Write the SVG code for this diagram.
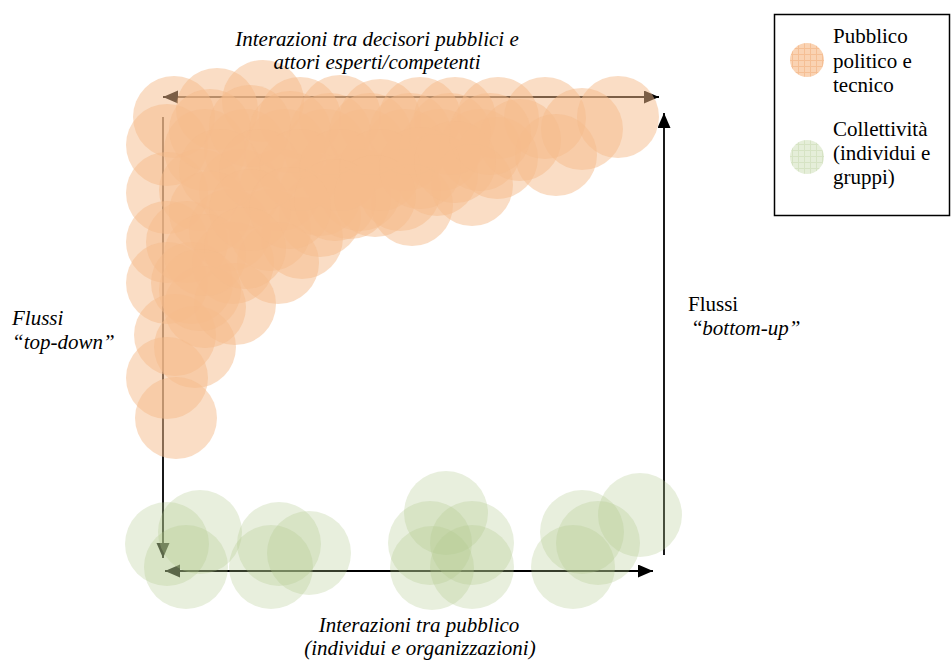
<svg xmlns="http://www.w3.org/2000/svg" width="952" height="663" viewBox="0 0 952 663">
<style>
.t{font-family:"Liberation Serif","Times New Roman",serif;font-size:21px;fill:#000}
.i{font-style:italic}
.n{font-style:normal}
.ln{stroke:#000;stroke-width:1.8;fill:none}
.o{fill:#f6bb8c;fill-opacity:0.5}
.g{fill:#b4cb8e;fill-opacity:0.3}
</style>
<defs>
<marker id="ah" markerUnits="userSpaceOnUse" markerWidth="16" markerHeight="14" refX="15" refY="6.5" orient="auto-start-reverse">
<path d="M0,0 L15,6.5 L0,13 z" fill="#000"/>
</marker>
<pattern id="po" width="6" height="6" patternUnits="userSpaceOnUse">
<rect width="6" height="6" fill="#fad3b3"/>
<path d="M0,0.5 H6 M0.5,0 V6" stroke="#f5bf95" stroke-width="1"/>
</pattern>
<pattern id="pg" width="6" height="6" patternUnits="userSpaceOnUse">
<rect width="6" height="6" fill="#e5eed9"/>
<path d="M0,0.5 H6 M0.5,0 V6" stroke="#d6e3c4" stroke-width="1"/>
</pattern>
</defs>
<rect width="952" height="663" fill="#fff"/>
<g id="connectors">
<line class="ln" x1="163" y1="97" x2="659" y2="97" marker-start="url(#ah)" marker-end="url(#ah)"/>
<line class="ln" x1="163" y1="117" x2="163" y2="558" marker-end="url(#ah)"/>
<line class="ln" x1="664" y1="555" x2="664" y2="113" marker-end="url(#ah)"/>
<line class="ln" x1="165" y1="571" x2="653" y2="571" marker-start="url(#ah)" marker-end="url(#ah)"/>
</g>
<g id="cluster-pubblico">
<circle class="o" cx="174" cy="117" r="41"/><circle class="o" cx="217" cy="109" r="41"/><circle class="o" cx="263" cy="101" r="41"/><circle class="o" cx="300" cy="118" r="41"/><circle class="o" cx="340" cy="116" r="41"/><circle class="o" cx="380" cy="120" r="41"/><circle class="o" cx="420" cy="118" r="41"/><circle class="o" cx="455" cy="118" r="41"/><circle class="o" cx="498" cy="118" r="41"/><circle class="o" cx="545" cy="118" r="41"/><circle class="o" cx="582" cy="129" r="41"/><circle class="o" cx="618" cy="117" r="41"/>
<circle class="o" cx="167" cy="145" r="41"/><circle class="o" cx="205" cy="150" r="41"/><circle class="o" cx="245" cy="150" r="41"/><circle class="o" cx="285" cy="150" r="41"/><circle class="o" cx="325" cy="150" r="41"/><circle class="o" cx="365" cy="150" r="41"/><circle class="o" cx="405" cy="150" r="41"/><circle class="o" cx="440" cy="150" r="41"/><circle class="o" cx="480" cy="150" r="41"/><circle class="o" cx="497" cy="158" r="41"/><circle class="o" cx="520" cy="140" r="41"/><circle class="o" cx="556" cy="155" r="41"/>
<circle class="o" cx="167" cy="193" r="41"/><circle class="o" cx="200" cy="190" r="41"/><circle class="o" cx="240" cy="190" r="41"/><circle class="o" cx="280" cy="190" r="41"/><circle class="o" cx="320" cy="195" r="41"/><circle class="o" cx="360" cy="190" r="41"/><circle class="o" cx="400" cy="190" r="41"/><circle class="o" cx="437" cy="175" r="41"/><circle class="o" cx="472" cy="185" r="41"/><circle class="o" cx="412" cy="205" r="41"/>
<circle class="o" cx="167" cy="242" r="41"/><circle class="o" cx="187" cy="242" r="41"/><circle class="o" cx="230" cy="230" r="41"/><circle class="o" cx="270" cy="230" r="41"/><circle class="o" cx="302" cy="238" r="41"/><circle class="o" cx="320" cy="216" r="41"/><circle class="o" cx="350" cy="198" r="41"/>
<circle class="o" cx="167" cy="283" r="41"/><circle class="o" cx="192" cy="283" r="41"/><circle class="o" cx="233" cy="263" r="41"/><circle class="o" cx="278" cy="263" r="41"/>
<circle class="o" cx="175" cy="335" r="41"/><circle class="o" cx="195" cy="347" r="41"/><circle class="o" cx="235" cy="304" r="41"/><circle class="o" cx="205" cy="307" r="41"/>
<circle class="o" cx="167" cy="378" r="41"/><circle class="o" cx="176" cy="418" r="41"/>
<circle class="o" cx="210" cy="130" r="41"/><circle class="o" cx="250" cy="126" r="41"/><circle class="o" cx="290" cy="132" r="41"/><circle class="o" cx="330" cy="134" r="41"/><circle class="o" cx="370" cy="134" r="41"/><circle class="o" cx="410" cy="134" r="41"/><circle class="o" cx="450" cy="134" r="41"/><circle class="o" cx="490" cy="134" r="41"/>
<circle class="o" cx="220" cy="170" r="41"/><circle class="o" cx="260" cy="170" r="41"/><circle class="o" cx="300" cy="170" r="41"/><circle class="o" cx="340" cy="170" r="41"/><circle class="o" cx="380" cy="170" r="41"/><circle class="o" cx="420" cy="168" r="41"/><circle class="o" cx="455" cy="162" r="41"/>
<circle class="o" cx="210" cy="212" r="41"/><circle class="o" cx="250" cy="210" r="41"/><circle class="o" cx="290" cy="208" r="41"/><circle class="o" cx="335" cy="200" r="41"/><circle class="o" cx="375" cy="196" r="41"/>
<circle class="o" cx="205" cy="255" r="41"/><circle class="o" cx="245" cy="248" r="41"/><circle class="o" cx="200" cy="290" r="41"/>
</g>
<g id="cluster-collettivita">
<circle class="g" cx="167" cy="544" r="42"/><circle class="g" cx="200" cy="532" r="42"/><circle class="g" cx="186" cy="567" r="42"/>
<circle class="g" cx="279" cy="544" r="42"/><circle class="g" cx="309" cy="553" r="42"/><circle class="g" cx="271" cy="567" r="42"/>
<circle class="g" cx="446" cy="513" r="42"/><circle class="g" cx="430" cy="543" r="42"/><circle class="g" cx="472" cy="543" r="42"/><circle class="g" cx="432" cy="568" r="42"/><circle class="g" cx="472" cy="567" r="42"/>
<circle class="g" cx="582" cy="532" r="42"/><circle class="g" cx="598" cy="543" r="42"/><circle class="g" cx="573" cy="567" r="42"/><circle class="g" cx="640" cy="515" r="42"/>
</g>
<g id="label-top">
<text class="t i" x="377" y="46" text-anchor="middle">Interazioni tra decisori pubblici e</text>
<text class="t i" x="377" y="69" text-anchor="middle">attori esperti/competenti</text>
</g>
<g id="label-bottom">
<text class="t i" x="419" y="632" text-anchor="middle">Interazioni tra pubblico</text>
<text class="t i" x="420" y="655" text-anchor="middle">(individui e organizzazioni)</text>
</g>
<g id="label-left">
<text class="t i" x="12" y="325">Flussi</text>
<text class="t i" x="12" y="349">“top-down”</text>
</g>
<g id="label-right">
<text class="t" x="688" y="311">Flussi</text>
<text class="t" x="693" y="335">“<tspan class="i">bottom-up”</tspan></text>
</g>
<g id="legend">
<rect x="774.5" y="14.5" width="175" height="201" fill="#fff" stroke="#000" stroke-width="1.5"/>
<circle cx="807" cy="60" r="17" fill="url(#po)"/>
<circle cx="807" cy="157" r="17" fill="url(#pg)"/>
<text class="t" x="833" y="43">Pubblico</text>
<text class="t" x="833" y="68">politico e</text>
<text class="t" x="833" y="92">tecnico</text>
<text class="t" x="833" y="136">Collettività</text>
<text class="t" x="833" y="160">(individui e</text>
<text class="t" x="833" y="184">gruppi)</text>
</g>
</svg>
